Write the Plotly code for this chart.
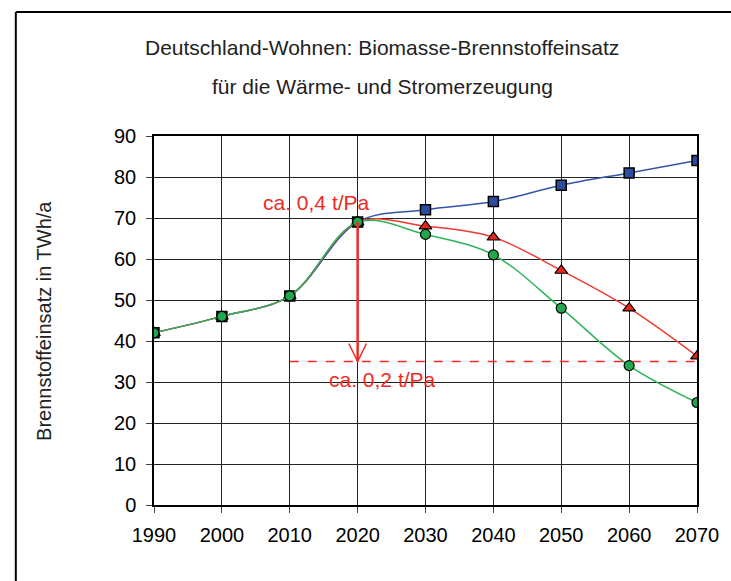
import plotly.graph_objects as go

years = [1990, 2000, 2010, 2020, 2030, 2040, 2050, 2060, 2070]
trend = [42, 46, 51, 69, 72, 74, 78, 81, 84]
szenario_a = [42, 46, 51, 69, 68, 65.3, 57.2, 48, 36.3]
szenario_b = [42, 46, 51, 69, 66, 61, 48, 34, 25]

y_ticks = list(range(0, 91, 10))
title_lines = ["Deutschland-Wohnen: Biomasse-Brennstoffeinsatz",
               "für die Wärme- und Stromerzeugung"]
y_title = "Brennstoffeinsatz in TWh/a"

arrow_year = 2020
arrow_from = 69
arrow_to = 35
dash_start = 2010
label_high = "ca. 0,4 t/Pa"
label_low = "ca. 0,2 t/Pa"

font_family = "Liberation Sans, Arial, sans-serif"
red = "#EE2A24"
blue_line = "#3355A8"
blue_marker = "#2E4C9E"
green_line = "#2DB35A"
green_marker = "#22A84C"

fig = go.Figure()

fig.add_trace(go.Scatter(
    x=years, y=trend, name="Trend", mode="lines+markers",
    line=dict(color=blue_line, width=1.5, shape="spline", smoothing=1),
    marker=dict(symbol="square", size=10, color=blue_marker,
                line=dict(color="black", width=1.5))))

fig.add_trace(go.Scatter(
    x=years, y=szenario_a, name="Szenario A", mode="lines+markers",
    line=dict(color="#F03A30", width=1.5, shape="spline", smoothing=1),
    marker=dict(symbol="triangle-up", size=11, color="#E8261E",
                line=dict(color="black", width=1.2))))

fig.add_trace(go.Scatter(
    x=years, y=szenario_b, name="Szenario B", mode="lines+markers",
    line=dict(color=green_line, width=1.5, shape="spline", smoothing=1),
    marker=dict(symbol="circle", size=10, color=green_marker,
                line=dict(color="black", width=1.2))))

# arrow 0,4 -> 0,2 and reference line
fig.add_shape(type="line", x0=dash_start, x1=years[-1], y0=arrow_to, y1=arrow_to,
              line=dict(color=red, width=1.5, dash="dash"))
fig.add_shape(type="line", x0=arrow_year, x1=arrow_year, y0=arrow_from, y1=arrow_to,
              line=dict(color=red, width=2.5))
hx, hy = 1.3, 4.4
fig.add_shape(type="path",
              path=f"M {arrow_year - hx},{arrow_to + hy} L {arrow_year},{arrow_to} L {arrow_year + hx},{arrow_to + hy}",
              line=dict(color=red, width=1.5))

fig.add_annotation(x=2014, y=73.8, text=label_high, showarrow=False,
                   xanchor="center", yanchor="middle",
                   font=dict(color=red, size=21, family=font_family))
fig.add_annotation(x=2023.6, y=30.7, text=label_low, showarrow=False,
                   xanchor="center", yanchor="middle",
                   font=dict(color=red, size=21, family=font_family))

# title lines and y title
fig.add_annotation(x=0.42, y=1.241, xref="paper", yref="paper", text=title_lines[0],
                   showarrow=False, xanchor="center", yanchor="middle",
                   font=dict(color="#222", size=21, family=font_family))
fig.add_annotation(x=0.42, y=1.133, xref="paper", yref="paper", text=title_lines[1],
                   showarrow=False, xanchor="center", yanchor="middle",
                   font=dict(color="#222", size=21, family=font_family))
fig.add_annotation(x=-0.2036, y=0.5, xref="paper", yref="paper", text=y_title,
                   textangle=-90, showarrow=False, xanchor="center", yanchor="middle",
                   font=dict(color="#222", size=20, family=font_family))

# outer frame: only the top and left edges are inside the window
fig.add_shape(type="line", xref="paper", yref="paper",
              x0=-0.2545, x1=1.3, y0=1.336, y1=1.336,
              line=dict(color="black", width=2), layer="below")
fig.add_shape(type="line", xref="paper", yref="paper",
              x0=-0.2545, x1=-0.2545, y0=-0.4, y1=1.336,
              line=dict(color="black", width=2), layer="below")

fig.update_xaxes(range=[1990, 2070], tickvals=years, ticks="outside", ticklen=6,
                 tickcolor="#444", showgrid=True, gridcolor="#222", gridwidth=1,
                 showline=True, linecolor="black", linewidth=1.5, mirror=True,
                 zeroline=False, ticklabelstandoff=5,
                 tickfont=dict(size=20, color="black", family=font_family))
fig.update_yaxes(range=[0, 90], tickvals=y_ticks, ticks="outside", ticklen=6,
                 tickcolor="#444", showgrid=True, gridcolor="#222", gridwidth=1,
                 showline=True, linecolor="black", linewidth=1.5, mirror=True,
                 zeroline=False, ticklabelstandoff=6,
                 tickfont=dict(size=20, color="black", family=font_family))

fig.update_layout(width=731, height=581, showlegend=False,
                  margin=dict(l=154, r=27, t=136, b=76),
                  plot_bgcolor="white", paper_bgcolor="white",
                  font=dict(family=font_family))

# drop the default body margin so the figure fills the window exactly
fig.write_html("out.html", config={"displayModeBar": False},
               post_script="document.body.style.margin = '0';")
